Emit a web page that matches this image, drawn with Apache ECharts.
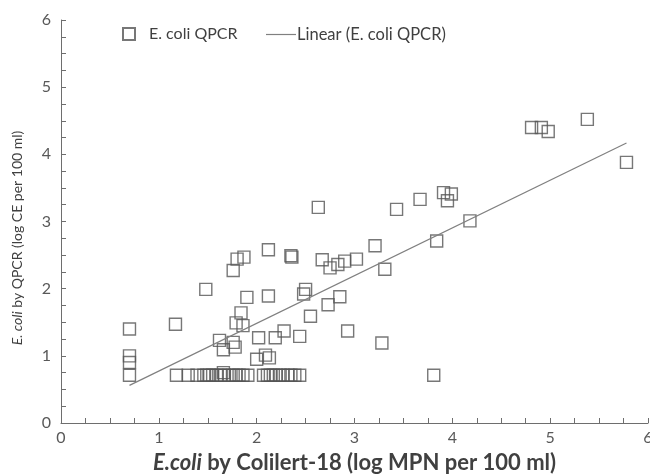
<!DOCTYPE html>
<html>
<head>
<meta charset="utf-8">
<script src="https://cdn.jsdelivr.net/npm/echarts@6/dist/echarts.min.js"></script>
<style>
  html, body { margin: 0; padding: 0; background: #fff; }
  #charts { width: 650px; height: 474px; }
</style>
</head>
<body>
<div id="charts"></div>
<script>
// log MPN (Colilert-18) values
var colilertX = [
    0.70, 0.70, 0.70, 0.70,
    1.17, 1.62, 1.66, 1.76, 1.78, 1.79, 1.84, 1.86, 2.02, 2.00, 2.09, 2.13,
    2.19, 2.28, 2.44, 2.55, 2.73, 2.93, 3.28, 3.81, 1.66,
    1.48, 1.90, 2.12, 2.50, 2.48, 2.85,
    1.76, 1.80, 1.87, 2.12, 2.35, 2.36, 2.67, 2.75, 2.83, 2.90, 3.02, 3.21, 3.31, 3.84,
    2.63, 3.43, 3.67, 3.91, 3.99, 3.95, 4.18,
    4.81, 4.91, 4.98, 5.38, 5.78,
    // the row at the detection limit
    1.18, 1.30, 1.39, 1.46, 1.49, 1.52, 1.55, 1.59, 1.63, 1.67, 1.72, 1.76, 1.79, 1.82, 1.86, 1.91,
    2.07, 2.11, 2.14, 2.17, 2.20, 2.24, 2.27, 2.32, 2.35, 2.39, 2.44
];
// log CE (QPCR) values, same order
var qpcrY = [
    1.40, 1.00, 0.90, 0.71,
    1.47, 1.23, 1.09, 1.20, 1.13, 1.49, 1.64, 1.45, 1.27, 0.95, 1.01, 0.97,
    1.27, 1.37, 1.29, 1.59, 1.76, 1.37, 1.19, 0.71, 0.75,
    1.99, 1.87, 1.89, 1.99, 1.92, 1.88,
    2.27, 2.44, 2.47, 2.58, 2.49, 2.47, 2.43, 2.31, 2.36, 2.41, 2.44, 2.64, 2.29, 2.71,
    3.21, 3.18, 3.33, 3.43, 3.41, 3.31, 3.01,
    4.40, 4.40, 4.34, 4.52, 3.88,
    0.71, 0.71, 0.71, 0.71, 0.71, 0.71, 0.71, 0.71, 0.71, 0.71, 0.71, 0.71, 0.71, 0.71, 0.71, 0.71,
    0.71, 0.71, 0.71, 0.71, 0.71, 0.71, 0.71, 0.71, 0.71, 0.71, 0.71
];
// trend line ends
var trendX = [0.70, 5.78];
var trendY = [0.56, 4.17];
var axisTicks = [0, 1, 2, 3, 4, 5, 6];

var charts;
var font = 'Lato, "Open Sans", sans-serif';

function pairs(xs, ys) {
    var out = [];
    for (var i = 0; i < xs.length; i++) {
        out.push([xs[i], ys[i]]);
    }
    return out;
}

function axisBase() {
    return {
        type: 'value',
        min: axisTicks[0],
        max: axisTicks[axisTicks.length - 1],
        interval: 1,
        splitLine: { show: false },
        axisLine: { show: true, lineStyle: { color: '#6e6e6e', width: 1 } },
        axisTick: { show: true, inside: true, length: 5, lineStyle: { color: '#6e6e6e' } },
        minorTick: { show: true, splitNumber: 4, length: 5, lineStyle: { color: '#6e6e6e' } },
        axisLabel: { color: '#595959', fontFamily: font, fontSize: 16 },
        nameLocation: 'middle'
    };
}

function init() {
    var xAxis = axisBase();
    xAxis.axisLabel.margin = 7;
    xAxis.name = '{i|E.coli} by Colilert-18 (log MPN per 100 ml)';
    xAxis.nameGap = 29;
    xAxis.nameTextStyle = {
        color: '#404040', fontFamily: font, fontSize: 22, fontWeight: 'bold',
        rich: { i: { fontStyle: 'italic', fontWeight: 'bold', fontSize: 22, fontFamily: font, color: '#404040' } }
    };

    var yAxis = axisBase();
    yAxis.axisLabel.margin = 10;
    yAxis.name = '{i|E. coli} by QPCR (log CE per 100 ml)';
    yAxis.nameGap = 37;
    yAxis.nameTextStyle = {
        color: '#404040', fontFamily: font, fontSize: 14, padding: [0, 33, 0, 0],
        rich: { i: { fontStyle: 'italic', fontSize: 14, fontFamily: font, color: '#404040' } }
    };

    var option = {
        animation: false,
        // keep the plot box fixed, v6 would otherwise shrink it for labels
        grid: { left: 61, right: 2, top: 20, bottom: 51, outerBoundsMode: 'none' },
        legend: [{
            data: ['E. coli QPCR'],
            left: 122, top: 26, padding: 0,
            itemWidth: 12, itemHeight: 12, itemGap: 0,
            textStyle: { color: '#404040', fontFamily: font, fontSize: 16, padding: [0, 0, 0, 9] }
        }, {
            data: [{ name: 'Linear (E. coli QPCR)', icon: 'rect' }],
            left: 266, top: 26, padding: 0,
            itemWidth: 30, itemHeight: 1.2, itemGap: 0,
            textStyle: { color: '#404040', fontFamily: font, fontSize: 16.5, padding: [0, 0, 0, -4] }
        }],
        xAxis: xAxis,
        yAxis: yAxis,
        series: [{
            name: 'E. coli QPCR',
            type: 'scatter',
            symbol: 'rect',
            symbolSize: 12,
            data: pairs(colilertX, qpcrY),
            itemStyle: { color: 'rgba(0,0,0,0)', borderColor: '#555555', borderWidth: 1.4 }
        }, {
            name: 'Linear (E. coli QPCR)',
            type: 'line',
            symbol: 'none',
            data: pairs(trendX, trendY),
            lineStyle: { color: '#808080', width: 1.2 },
            itemStyle: { color: '#808080' }
        }]
    };
    charts = echarts.init(document.getElementById('charts'));
    charts.setOption(option);
}

init();
</script>
</body>
</html>
